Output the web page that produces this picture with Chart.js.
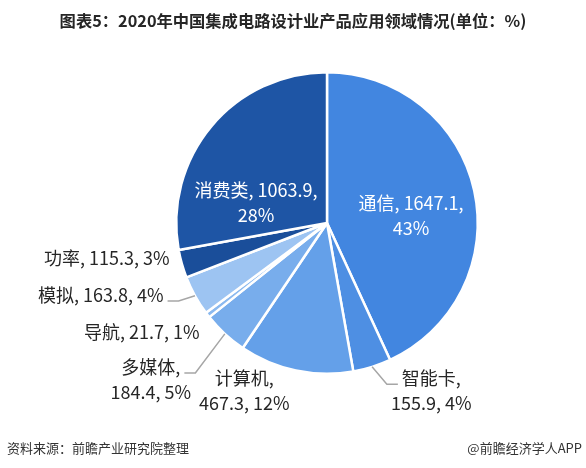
<!DOCTYPE html>
<html>
<head>
<meta charset="utf-8">
<script src="https://cdn.jsdelivr.net/npm/chart.js@4.4.1/dist/chart.umd.min.js"></script>
<style>
  body { margin: 0; background: #fff; }
</style>
</head>
<body>
<canvas id="chart" width="586" height="468"></canvas>
<script>
// data
const categories = ['通信', '智能卡', '计算机', '多媒体', '导航', '模拟', '功率', '消费类'];
const values = [1647.1, 155.9, 467.3, 184.4, 21.7, 163.8, 115.3, 1063.9];
const percents = ['43%', '4%', '12%', '5%', '1%', '4%', '3%', '28%'];
// comma after which the label wraps (0 = one line)
const labelBreaks = [2, 1, 1, 1, 0, 0, 0, 2];

const sliceColors = ['#4286e0', '#4e8fe3', '#64a0e9', '#78adec', '#8bb9ef', '#9dc4f2', '#1a4e9a', '#1e55a5'];

// label layout: angle shift from slice middle (deg), distance in radii, inside or not, leader line
const labelPlace = [
    { da: 7.3, r: 0.56, inside: true },
    { da: -14.5, r: 1.31, leader: true, side: 'right' },
    { da: 14.3, r: 1.24 },
    { da: 5.7, r: 1.563, leader: true, side: 'left' },
    { da: 7.1, r: 1.426 },
    { da: 11.2, r: 1.575, leader: true, side: 'left' },
    { da: 6.7, r: 1.479 },
    { da: -24, r: 0.49, inside: true }
];

const FONT = '"Noto Sans CJK SC", "Microsoft YaHei", sans-serif';
const LINE_H = 25;

function labelLines(i) {
    const parts = [categories[i], String(values[i]), percents[i]];
    const b = labelBreaks[i];
    if (!b) return [parts.join(', ')];
    return [parts.slice(0, b).join(', ') + ',', parts.slice(b).join(', ')];
}

const labelPlugin = {
    id: 'sliceLabels',
    afterDatasetsDraw(chart) {
        const ctx = chart.ctx;
        const arcs = chart.getDatasetMeta(0).data;
        ctx.save();
        ctx.font = '18px ' + FONT;
        ctx.textBaseline = 'middle';
        arcs.forEach(function (arc, i) {
            const p = arc.getProps(['x', 'y', 'startAngle', 'endAngle', 'outerRadius'], true);
            const mid = (p.startAngle + p.endAngle) / 2;
            const place = labelPlace[i];
            const a = mid + place.da * Math.PI / 180;
            const cx = p.x + Math.cos(a) * p.outerRadius * place.r;
            const cy = p.y + Math.sin(a) * p.outerRadius * place.r;
            const lines = labelLines(i);
            const top = cy - (lines.length - 1) * LINE_H / 2;

            if (place.leader) {
                const w0 = ctx.measureText(lines[0]).width;
                const dir = place.side === 'left' ? 1 : -1;
                const edgeX = place.side === 'left' ? cx + w0 / 2 : cx - w0 / 2;
                const ly = top + 6;
                ctx.beginPath();
                ctx.moveTo(p.x + Math.cos(mid) * p.outerRadius, p.y + Math.sin(mid) * p.outerRadius);
                ctx.lineTo(edgeX + dir * 15, ly);
                ctx.lineTo(edgeX + dir * 4, ly);
                ctx.strokeStyle = '#a6a6a6';
                ctx.lineWidth = 1.5;
                ctx.stroke();
            }

            ctx.fillStyle = place.inside ? '#ffffff' : '#262626';
            ctx.textAlign = 'center';
            lines.forEach(function (t, k) {
                ctx.fillText(t, cx, top + k * LINE_H);
            });
        });
        ctx.restore();
    }
};

const textPlugin = {
    id: 'pageText',
    afterDraw(chart) {
        const ctx = chart.ctx;
        ctx.save();
        ctx.textBaseline = 'middle';
        ctx.fillStyle = '#262626';
        ctx.font = 'bold 16.3px ' + FONT;
        ctx.textAlign = 'center';
        ctx.fillText('图表5：2020年中国集成电路设计业产品应用领域情况(单位：%)', 293, 21);
        ctx.font = '13px ' + FONT;
        ctx.fillStyle = '#333333';
        ctx.textAlign = 'left';
        ctx.fillText('资料来源：前瞻产业研究院整理', 7, 448);
        ctx.textAlign = 'right';
        ctx.fillText('@前瞻经济学人APP', 582, 448);
        ctx.restore();
    }
};

new Chart(document.getElementById('chart'), {
    type: 'pie',
    data: {
        labels: categories,
        datasets: [{
            data: values,
            backgroundColor: sliceColors,
            borderColor: '#ffffff',
            borderWidth: 2.5
        }]
    },
    options: {
        responsive: false,
        animation: false,
        layout: { padding: { top: 71, bottom: 93, left: 175, right: 107 } },
        plugins: {
            legend: { display: false },
            tooltip: { enabled: false },
            title: { display: false }
        }
    },
    plugins: [labelPlugin, textPlugin]
});
</script>
</body>
</html>
